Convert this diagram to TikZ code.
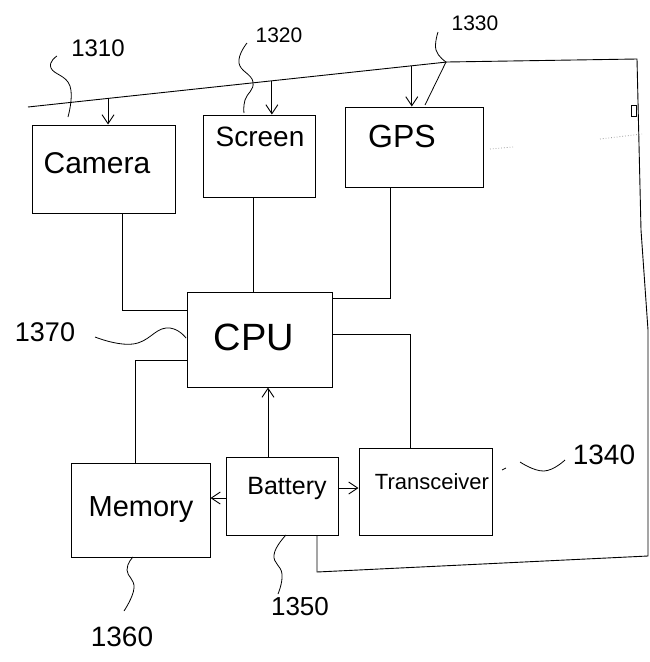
\documentclass[tikz,border=0pt]{standalone}
\usepackage{fontspec}
\setmainfont{Liberation Sans}
\usetikzlibrary{arrows.meta,calc}
\begin{document}
\begin{tikzpicture}[x=1pt,y=-1pt,
  line width=0.9pt,
  box/.style={draw, rectangle, inner sep=0pt, line width=1pt},
  txt/.style={inner sep=0pt, font=\fontsize{#1}{#1}\selectfont},
  arr/.style={-{Straight Barb[length=9pt,width=12pt]}},
  lead/.style={line width=0.8pt},
  faint/.style={black!40, dotted, line width=0.8pt}
]
\useasboundingbox (0,0) rectangle (650,662);

% boxes
\node[box, minimum width=143pt, minimum height=88pt] (camera) at (103.5,169) {};
\node[box, minimum width=112pt, minimum height=82pt] (screen) at (259,156) {};
\node[box, minimum width=138pt, minimum height=80pt] (gps) at (414,147) {};
\node[box, minimum width=145pt, minimum height=95pt] (cpu) at (259.5,339.5) {};
\node[box, minimum width=139pt, minimum height=94pt] (memory) at (140.5,510) {};
\node[box, minimum width=112pt, minimum height=78pt] (battery) at (282,496) {};
\node[box, minimum width=133pt, minimum height=87pt] (trans) at (425.5,491.5) {};

% box texts
\node[txt=30] (camtxt) at (97,163) {Camera};
\node[txt=28] (scrtxt) at (260,137) {Screen};
\node[txt=32] (gpstxt) at (402,136) {GPS};
\node[txt=38] (cputxt) at (254,337) {CPU};
\node[txt=29] (memtxt) at (141,510) {Memory};
\node[txt=25] (battxt) at (287,488) {Battery};
\node[txt=22] (trtxt) at (432,482) {Transceiver};

% reference numerals
\node[txt=24] (l1310) at (98,48) {1310};
\node[txt=21] (l1320) at (279,35) {1320};
\node[txt=21] (l1330) at (475,23) {1330};
\node[txt=27] (l1370) at (45,332) {1370};
\node[txt=28] (l1340) at (604,455) {1340};
\node[txt=26] (l1350) at (300,607) {1350};
\node[txt=28] (l1360) at (122,637) {1360};

% power bus
\coordinate (busL) at (28,107);
\coordinate (busM) at (447,62);
\coordinate (busR) at (637,59);
\coordinate (rc1) at (641,230);
\coordinate (rc2) at (648,330);
\coordinate (rc3) at (648,556);
\coordinate (bot) at (317,572);
\draw (busL) -- (busM) -- (busR) -- (rc1) -- (rc2) -- (rc3) -- (bot) -- (bot |- battery.south);
\draw[line width=0.8pt] (631,105) rectangle (636,116);

% bus arrows
\coordinate (ca) at ($(busL)!0.191!(busM)$);
\coordinate (sa) at ($(busL)!0.582!(busM)$);
\coordinate (ga) at ($(busL)!0.916!(busM)$);
\draw[arr] (ca) -- (ca |- camera.north);
\draw[arr] (sa) -- (sa |- screen.north);
\draw[arr] (ga) -- (ga |- gps.north);

% faint marks right of GPS
\draw[faint] (490,149) -- (513,147);
\draw[faint] (600,139) -- (642,134);

% connectors to CPU
\coordinate (c1) at (122,310);
\draw (camera.south -| c1) -- (c1) -- (c1 -| cpu.west);
\coordinate (s1) at (253,250);
\draw (screen.south -| s1) -- (cpu.north -| s1);
\coordinate (g1) at (390,298);
\draw (gps.south -| g1) -- (g1) -- (g1 -| cpu.east);
\coordinate (m1) at (135,360);
\draw (m1 -| cpu.west) -- (m1) -- (m1 |- memory.north);
\coordinate (t1) at (410,334);
\draw (t1 -| cpu.east) -- (t1) -- (t1 |- trans.north);
\coordinate (b1) at (268,420);
\draw[arr] (battery.north -| b1) -- (cpu.south -| b1);
\coordinate (b2) at (0,498);
\draw[arr] (battery.west |- b2) -- (memory.east |- b2);
\coordinate (b3) at (0,488);
\draw[arr] (battery.east |- b3) -- (trans.west |- b3);

% leader lines
\draw[lead] plot[smooth, tension=0.8] coordinates {(57,56) (51,68) (70,86) (68,117)};
\draw[lead] plot[smooth, tension=0.8] coordinates {(247,43) (239,63) (253,82) (245,100) (244,113)};
\draw[lead] plot[smooth, tension=0.8] coordinates {(438,32) (436,50) (446,62)} -- (425,105);
\draw[lead] plot[smooth, tension=0.8] coordinates {(95,337) (133,344) (166,328) (186,338)};
\draw[lead] (502,470) -- (506,468);
\draw[lead] plot[smooth, tension=0.8] coordinates {(520,462) (544,471) (565,460)};
\draw[lead] plot[smooth, tension=0.8] coordinates {(286,535) (274,555) (282,574) (278,594)};
\draw[lead] plot[smooth, tension=0.8] coordinates {(133,557) (127,570) (134,588) (124,611)};
\end{tikzpicture}
\end{document}
